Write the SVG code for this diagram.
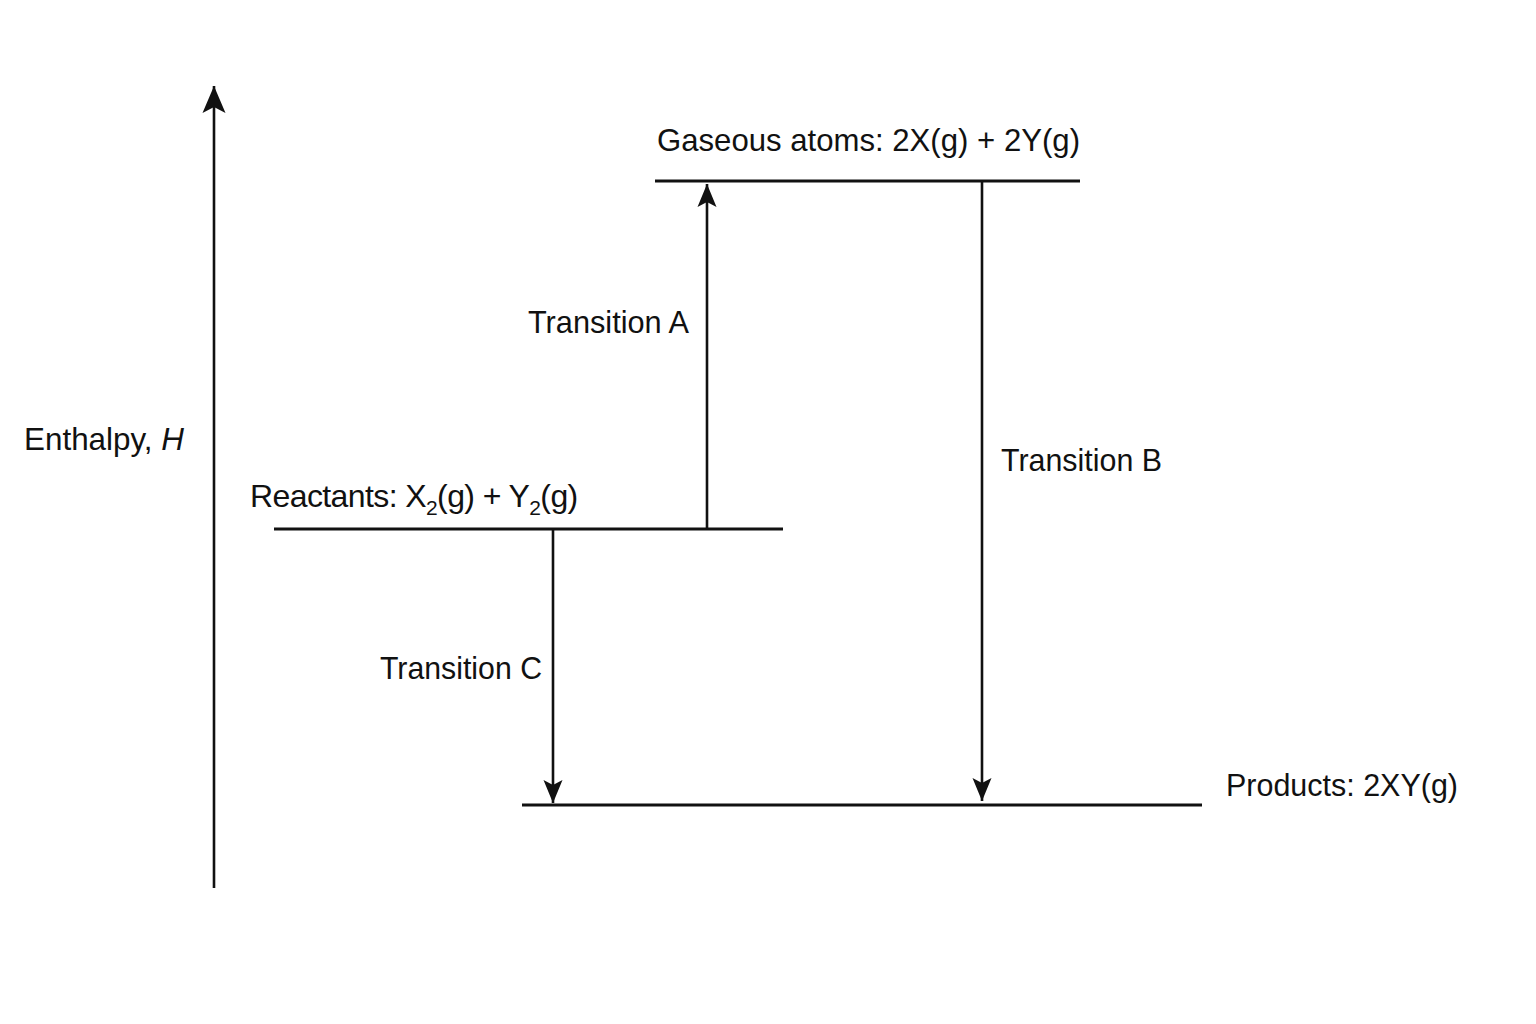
<svg xmlns="http://www.w3.org/2000/svg" width="1536" height="1024" viewBox="0 0 1536 1024">
<defs>
<style>
.t{font-family:"Liberation Sans",Arial,sans-serif;font-size:32px;fill:#111;}
.lvl{stroke:#111;stroke-width:3;fill:none;}
.arr{stroke:#111;stroke-width:2.6;fill:none;}
</style>
<marker id="ah" markerUnits="userSpaceOnUse" viewBox="-24 -11 24 22" refX="0" refY="0" markerWidth="24" markerHeight="22" orient="auto">
<path d="M0,0 L-23,-9.5 L-18,0 L-23,9.5 Z" fill="#111"/>
</marker>
<marker id="ah2" markerUnits="userSpaceOnUse" viewBox="-28 -13 28 26" refX="0" refY="0" markerWidth="28" markerHeight="26" orient="auto">
<path d="M0,0 L-27,-11.5 L-21,0 L-27,11.5 Z" fill="#111"/>
</marker>
</defs>
<rect width="1536" height="1024" fill="#fff"/>
<g id="axis">
<line class="arr" x1="214" y1="888" x2="214" y2="86" marker-end="url(#ah2)"/>
<text class="t" x="24" y="450" textLength="160" lengthAdjust="spacingAndGlyphs">Enthalpy, <tspan font-style="italic">H</tspan></text>
</g>
<g id="gaseous">
<line class="lvl" x1="655" y1="181" x2="1080" y2="181"/>
<text class="t" x="657" y="151" textLength="423" lengthAdjust="spacingAndGlyphs">Gaseous atoms: 2X(g) + 2Y(g)</text>
</g>
<g id="reactants">
<line class="lvl" x1="274" y1="529" x2="783" y2="529"/>
<text class="t" x="250" y="507" letter-spacing="-0.6">Reactants: X<tspan font-size="21" dy="8">2</tspan><tspan dy="-8">(g) + Y</tspan><tspan font-size="21" dy="8">2</tspan><tspan dy="-8">(g)</tspan></text>
</g>
<g id="products">
<line class="lvl" x1="522" y1="805" x2="1202" y2="805"/>
<text class="t" x="1226" y="796" textLength="232" lengthAdjust="spacingAndGlyphs">Products: 2XY(g)</text>
</g>
<g id="connectors">
<g id="transitionA">
<line class="arr" x1="707" y1="529" x2="707" y2="184" marker-end="url(#ah)"/>
<text class="t" x="528" y="333" textLength="161" lengthAdjust="spacingAndGlyphs">Transition A</text>
</g>
<g id="transitionB">
<line class="arr" x1="982" y1="181" x2="982" y2="801" marker-end="url(#ah)"/>
<text class="t" x="1001" y="471" textLength="161" lengthAdjust="spacingAndGlyphs">Transition B</text>
</g>
<g id="transitionC">
<line class="arr" x1="553" y1="529" x2="553" y2="803" marker-end="url(#ah)"/>
<text class="t" x="380" y="679" textLength="162" lengthAdjust="spacingAndGlyphs">Transition C</text>
</g>
</g>
</svg>
